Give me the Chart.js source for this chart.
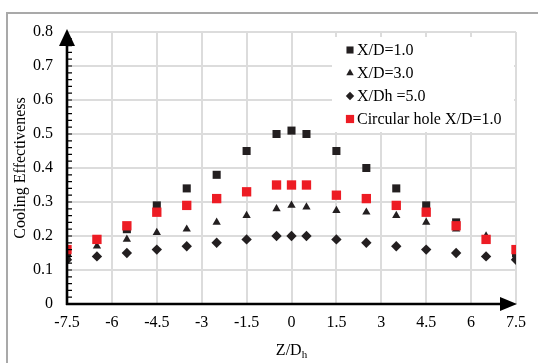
<!DOCTYPE html>
<html><head><meta charset="utf-8">
<script src="https://cdn.jsdelivr.net/npm/chart.js@4.4.0/dist/chart.umd.min.js"></script>
<style>html,body{margin:0;padding:0;background:#fff;}canvas{display:block;}</style>
</head><body>
<canvas id="c" width="538" height="363"></canvas>
<script>
// ---- data ----
const zPositions = [-7.5,-6.5,-5.5,-4.5,-3.5,-2.5,-1.5,-0.5,0,0.5,1.5,2.5,3.5,4.5,5.5,6.5,7.5];
const xd1Values  = [0.15,0.19,0.22,0.29,0.34,0.38,0.45,0.50,0.51,0.50,0.45,0.40,0.34,0.29,0.24,0.19,0.15];
const xd3Values  = [0.14,0.17,0.19,0.21,0.22,0.24,0.26,0.28,0.29,0.285,0.275,0.27,0.26,0.24,0.22,0.20,0.14];
const xd5Values  = [0.13,0.14,0.15,0.16,0.17,0.18,0.19,0.20,0.20,0.20,0.19,0.18,0.17,0.16,0.15,0.14,0.13];
const circValues = [0.16,0.19,0.23,0.27,0.29,0.31,0.33,0.35,0.35,0.35,0.32,0.31,0.29,0.27,0.23,0.19,0.16];
const seriesNames = ['X/D=1.0','X/D=3.0','X/Dh =5.0','Circular hole X/D=1.0'];
const xTickValues = [-7.5,-6,-4.5,-3,-1.5,0,1.5,3,4.5,6,7.5];
const yTickValues = [0,0.1,0.2,0.3,0.4,0.5,0.6,0.7,0.8];
const xTitleMain = 'Z/D', xTitleSub = 'h';
const yTitle = 'Cooling Effectiveness';

const FONT = '"Liberation Serif", "Times New Roman", serif';
const DARK = '#231f20', RED = '#ed1c24';
const pts = vals => zPositions.map((z,i)=>({x:z, y:vals[i]}));

const styles = [
  {style:'rect', r:5.7, color:DARK, order:1},
  {style:'triangle', r:4.8, color:DARK, order:2},
  {style:'rectRot', r:5.2, color:DARK, order:3},
  {style:'rect', r:6.6, color:RED, order:0}
];
const allVals = [xd1Values, xd3Values, xd5Values, circValues];

const datasets = allVals.map((v,i)=>({
  label: seriesNames[i], data: pts(v), showLine:false,
  pointStyle: styles[i].style, pointRadius: styles[i].r, pointHoverRadius: styles[i].r,
  pointBackgroundColor: styles[i].color, pointBorderColor: styles[i].color, pointBorderWidth: 0,
  order: styles[i].order
}));

function shape(ctx, style, x, y, r, color){
  ctx.save(); ctx.fillStyle=color; ctx.beginPath();
  if(style==='rect'){ const s=Math.SQRT1_2*r; ctx.rect(x-s,y-s,2*s,2*s); }
  else if(style==='triangle'){ ctx.moveTo(x, y-r); ctx.lineTo(x+Math.sin(2*Math.PI/3)*r, y+r/2); ctx.lineTo(x-Math.sin(2*Math.PI/3)*r, y+r/2); ctx.closePath(); }
  else { ctx.moveTo(x-r,y); ctx.lineTo(x,y-r); ctx.lineTo(x+r,y); ctx.lineTo(x,y+r); ctx.closePath(); }
  ctx.fill(); ctx.restore();
}

const deco = {
  id:'deco',
  beforeDraw(chart){
    const ctx=chart.ctx; ctx.save();
    ctx.fillStyle='#fff'; ctx.fillRect(0,0,chart.width,chart.height);
    ctx.strokeStyle='#a9a9a9'; ctx.lineWidth=2;
    ctx.beginPath(); ctx.moveTo(7,chart.height); ctx.lineTo(7,13); ctx.lineTo(chart.width,13); ctx.stroke();
    ctx.restore();
  },
  afterDatasetsDraw(chart){
    const {ctx, chartArea:a, scales:{x,y}} = chart;
    const x0 = x.getPixelForValue(xTickValues[0]);
    const y0 = y.getPixelForValue(0);
    const xr = x.getPixelForValue(xTickValues[xTickValues.length-1]);
    ctx.save();
    ctx.strokeStyle='#000'; ctx.fillStyle='#000';
    ctx.lineWidth=1.2; ctx.beginPath();
    for(let i=1;i<40;i++){ const py=y.getPixelForValue(i*0.02); ctx.moveTo(x0, py); ctx.lineTo(x0+5, py); }
    ctx.stroke();
    ctx.lineWidth=2.6; ctx.beginPath();
    ctx.moveTo(x0, y0+1); ctx.lineTo(x0, a.top+6);
    ctx.moveTo(x0-1, y0); ctx.lineTo(xr-8, y0);
    ctx.stroke();
    ctx.beginPath(); ctx.moveTo(x0, a.top-3); ctx.lineTo(x0-8, a.top+14); ctx.lineTo(x0+8, a.top+14); ctx.closePath(); ctx.fill();
    ctx.beginPath(); ctx.moveTo(xr+1, y0); ctx.lineTo(xr-16, y0-7); ctx.lineTo(xr-16, y0+7); ctx.closePath(); ctx.fill();
    ctx.font = '16px '+FONT; const w1 = ctx.measureText(xTitleMain).width;
    ctx.font = '11px '+FONT; const w2 = ctx.measureText(xTitleSub).width;
    const cx = (a.left+a.right)/2 - (w1+w2)/2;
    ctx.textBaseline='alphabetic'; ctx.textAlign='left';
    ctx.font = '16px '+FONT; ctx.fillText(xTitleMain, cx, 355);
    ctx.font = '11px '+FONT; ctx.fillText(xTitleSub, cx+w1, 358);
    ctx.fillStyle='#fff'; ctx.fillRect(332, 37, 182, 95);
    const rows=[50,73,96,119];
    const lsz=[5,4.3,4.2,5.8];
    rows.forEach((ry,i)=>{
      shape(ctx, styles[i].style, 350, ry, lsz[i], styles[i].color);
      ctx.fillStyle='#000'; ctx.font='16px '+FONT; ctx.textBaseline='middle'; ctx.textAlign='left';
      ctx.fillText(seriesNames[i], 357, ry+1);
    });
    ctx.restore();
  }
};

new Chart(document.getElementById('c'), {
  type:'scatter',
  data:{datasets},
  options:{
    responsive:false, animation:false, devicePixelRatio:1,
    layout:{padding:{top:32, right:22, left:0, bottom:0}},
    plugins:{legend:{display:false}, tooltip:{enabled:false}},
    scales:{
      x:{
        type:'linear', min:-7.5, max:7.5,
        afterBuildTicks: s=>{ s.ticks = xTickValues.map(v=>({value:v})); },
        afterFit: s=>{ s.height = 59; },
        grid:{color:'#dcdcdc', lineWidth:2, drawTicks:false},
        border:{display:false},
        ticks:{color:'#000', font:{family:FONT, size:16}, padding:9, maxRotation:0, autoSkip:false,
          callback:v=>String(v)}
      },
      y:{
        type:'linear', min:0, max:0.8,
        afterBuildTicks: s=>{ s.ticks = yTickValues.map(v=>({value:v})); },
        afterFit: s=>{ s.width = 67; },
        grid:{color:'#dcdcdc', lineWidth:2, drawTicks:false},
        border:{display:false},
        ticks:{color:'#000', font:{family:FONT, size:16}, padding:14, callback:v=>String(v)},
        title:{display:true, text:yTitle, color:'#000', font:{family:FONT, size:16}, padding:{top:11, bottom:0}}
      }
    }
  },
  plugins:[deco]
});
</script>
</body></html>
